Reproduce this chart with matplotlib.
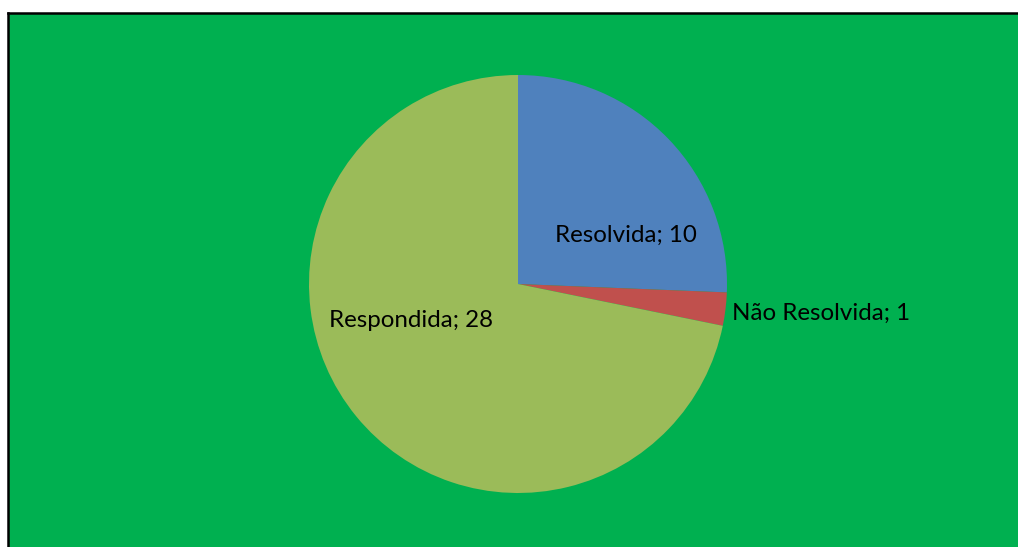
#!/usr/bin/env python3
"""Pie chart: status of requests (Resolvida / Nao Resolvida / Respondida)."""

import matplotlib
matplotlib.use("Agg")
import matplotlib.pyplot as plt

categories = ["Resolvida", "Não Resolvida", "Respondida"]
values = [10, 1, 28]
colors = ["#4F81BD", "#C0504D", "#9BBB59"]

# label anchor points in pie units (radius = 1)
label_pos = [(0.517, 0.201, "center"), (1.024, -0.172, "left"), (-0.51, -0.206, "center")]

W, H = 1018, 547
fig = plt.figure(figsize=(W / 100, H / 100), dpi=100)
fig.patch.set_facecolor("white")

# green chart area; only top and left border visible (rest runs off the image)
bg = fig.add_axes([7.5 / W, -0.05, 1.1, 1.05 - 12.5 / H], zorder=-1)
bg.set_facecolor("#00B050")
bg.set_xticks([])
bg.set_yticks([])
for side in ("right", "bottom"):
    bg.spines[side].set_visible(False)
for side in ("top", "left"):
    bg.spines[side].set_linewidth(1.8)
    bg.spines[side].set_color("black")

cx, cy, r = 518, 284, 209
ax = fig.add_axes([(cx - r) / W, (H - cy - r) / H, 2 * r / W, 2 * r / H])
ax.set_facecolor("none")
ax.pie(values, colors=colors, startangle=90, counterclock=False, radius=1,
       wedgeprops=dict(linewidth=0))
ax.set_xlim(-1, 1)
ax.set_ylim(-1, 1)
ax.set_aspect("equal")
ax.axis("off")

for cat, val, (x, y, ha) in zip(categories, values, label_pos):
    ax.text(x, y, f"{cat}; {val}", ha=ha, va="baseline", fontsize=17.4,
            family="Lato", color="black", clip_on=False)

fig.savefig("out.png", dpi=100)
plt.close(fig)
